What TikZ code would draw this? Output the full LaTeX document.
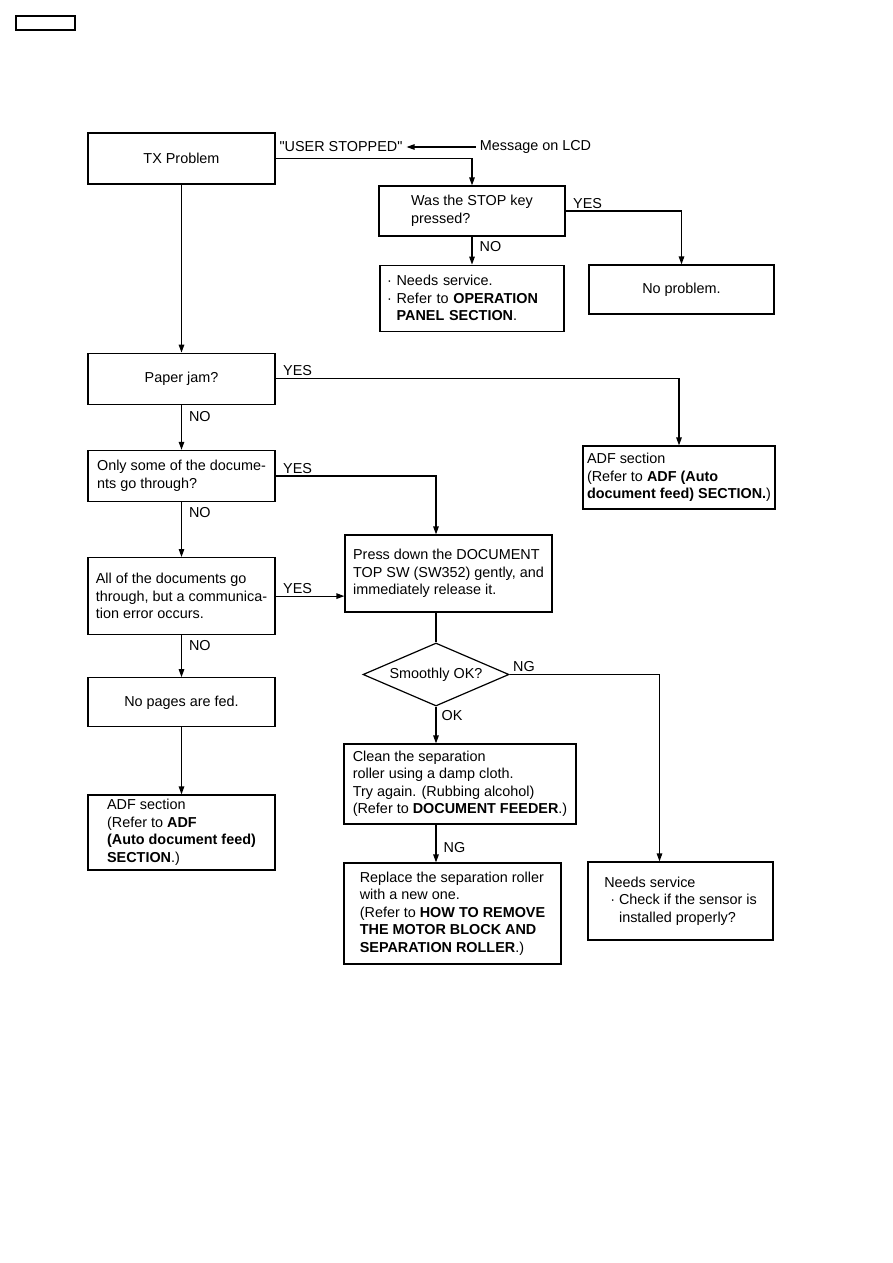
\documentclass[tikz,border=0pt]{standalone}
\usepackage{fontspec}
\setmainfont{Liberation Sans}
\usepackage{tikz}
\usetikzlibrary{arrows.meta,positioning,calc,shapes.geometric}
\newcommand{\bul}{\textperiodcentered\ }
\tikzset{
  box/.style 2 args={rectangle, draw, line width=1.2pt, minimum width=#1, minimum height=#2,
                     align=center, inner sep=3pt},
  lbox/.style 2 args={box={#1}{#2}, align=left},
  dia/.style={diamond, draw, line width=1.2pt, aspect=2.3, inner sep=0pt,
              minimum width=146pt, minimum height=63pt},
  lbl/.style={inner sep=2pt},
  yeslbl/.style={lbl, anchor=south west, xshift=5pt},
  nolbl/.style={lbl, anchor=west, xshift=5pt},
  ln/.style={line width=1.2pt},
  arr/.style={-{Triangle[length=8pt,width=5.5pt]}, line width=1.2pt},
}

\begin{document}
\begin{tikzpicture}[x=1pt, y=-1pt, node distance=40pt, font=\fontsize{14.4}{17.5}\selectfont]
  \useasboundingbox (0,0) rectangle (893,1263);
  \node[draw, line width=1.2pt, minimum width=59pt, minimum height=14pt, inner sep=0pt] (tag) at (45.5,23) {};

  \node[box={187pt}{51pt}] (tx) at (181.5,158.5) {TX Problem};
  \node[box={187pt}{51pt}, below=168pt of tx] (jam) {Paper jam?};
  \node[lbox={187pt}{51pt}, below=45pt of jam] (some) {Only some of the docume-\\nts go through?};
  \node[lbox={187pt}{77pt}, below=55pt of some] (alldocs) {All of the documents go\\through, but a communica-\\tion error occurs.};
  \node[box={187pt}{49pt}, below=42pt of alldocs] (nopages) {No pages are fed.};
  \node[lbox={187pt}{75pt}, below=67pt of nopages] (adfb) {ADF section\\(Refer to \textbf{ADF}\\\textbf{(Auto document feed)}\\\textbf{SECTION}.)};

  \node[lbl, inner sep=4pt] (user) at (341,147) {\textquotedbl USER STOPPED\textquotedbl};
  \node[lbl, inner sep=4pt] (lcd) at (535.5,147) {Message on LCD};
  \node[lbox={186pt}{50pt}] (stop) at (472,211) {Was the STOP key\\pressed?};
  \node[box={184pt}{66pt}, align=left, text width=170pt, below=28pt of stop] (needs) {\bul Needs service.\\\bul Refer to \textbf{OPERATION}\\\phantom{\bul}\textbf{PANEL SECTION}.};
  \node[box={185pt}{49pt}] (noprob) at (681.5,289.5) {No problem.};
  \node[lbox={192pt}{63pt}] (adfa) at (679,477.5) {ADF section\\(Refer to \textbf{ADF (Auto}\\\textbf{document feed) SECTION.})};

  \node[lbox={207pt}{77pt}] (press) at (448.5,573.5) {Press down the DOCUMENT\\TOP SW (SW352) gently, and\\immediately release it.};
  \node[dia] (smooth) at (436,674.5) {Smoothly OK?};
  \node[lbox={232pt}{80pt}] (clean) at (460,784) {Clean the separation\\roller using a damp cloth.\\Try again. (Rubbing alcohol)\\(Refer to \textbf{DOCUMENT FEEDER}.)};
  \node[lbox={217pt}{101pt}] (replace) at (452.5,913.5) {Replace the separation roller\\with a new one.\\(Refer to \textbf{HOW TO REMOVE}\\\textbf{THE MOTOR BLOCK AND}\\\textbf{SEPARATION ROLLER}.)};
  \node[lbox={185pt}{78pt}] (sensor) at (680.5,901) {Needs service\\\hspace*{6pt}\bul Check if the sensor is\\\hspace*{6pt}\phantom{\bul}installed properly?};

  \draw[arr] (lcd) -- (user);
  \draw[arr] (tx.east) -| (stop.north);
  \draw[arr] (stop) -- node[nolbl, pos=.35] (no1) {NO} (needs);
  \draw[arr] (stop.east) -| node[yeslbl, pos=0] (yes1) {YES} (noprob.north);
  \draw[arr] (tx) -- (jam);
  \draw[arr] (jam.east) -| node[yeslbl, pos=0] (yes2) {YES} (adfa.north);
  \draw[arr] (jam) -- node[nolbl, pos=.25] (no2) {NO} (some);
  \draw[arr] (some.east) -| node[yeslbl, pos=0] (yes3) {YES} (smooth |- press.north);
  \draw[arr] (some) -- node[nolbl, pos=.2] (no3) {NO} (alldocs);
  \draw[arr] (alldocs.east) -- node[yeslbl, pos=0] (yes4) {YES} (alldocs.east -| press.west);
  \draw[arr] (alldocs) -- node[nolbl, pos=.25] (no4) {NO} (nopages);
  \draw[arr] (nopages) -- (adfb);
  \draw[ln] (smooth |- press.south) -- (smooth.north);
  \draw[arr] (smooth.east) -| node[yeslbl, pos=0, xshift=-4pt] (ng1) {NG} ($(sensor.north)+(-21,0)$);
  \draw[arr] (smooth.south) -- node[nolbl, pos=.25, xshift=-2pt] (ok1) {OK} (smooth.south |- clean.north);
  \draw[arr] (smooth |- clean.south) -- node[nolbl, pos=.6] (ng2) {NG} (smooth |- replace.north);
\end{tikzpicture}
\end{document}
